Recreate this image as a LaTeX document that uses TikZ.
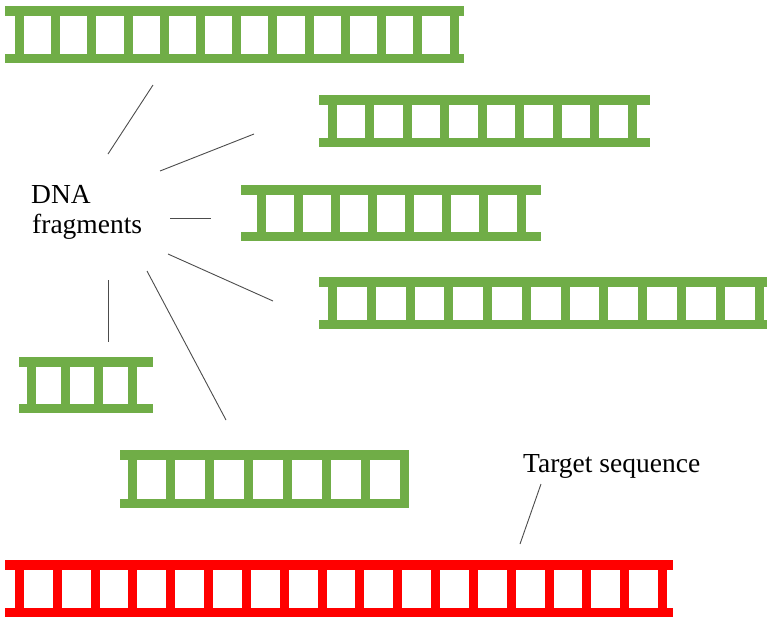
\documentclass[tikz,border=0pt]{standalone}
\usepackage{fontspec}
\setmainfont{Liberation Serif}
\usetikzlibrary{positioning}

\definecolor{dnagreen}{RGB}{112,173,71}
\definecolor{dnared}{RGB}{255,0,0}

\tikzset{
  leader/.style={draw=black!70,line width=0.9pt},
  callout/.style={inner sep=0pt,font=\fontsize{27.5}{30}\selectfont}
}

\begin{document}
\begin{tikzpicture}[x=1pt,y=-1pt]
 \useasboundingbox (0,0) rectangle (768,619);

 % ladders: rail from/to, first/last rung, cells, top/bottom, colour
 \foreach \xa/\xb/\ra/\rb/\n/\ya/\yb/\col in {
   5/464/19.5/454/12/6/63/dnagreen,
   319/650/332.5/632/8/95/147/dnagreen,
   241/541/261/521/7/185/241/dnagreen,
   319/767/332.5/759/11/277/329/dnagreen,
   19/153/31.5/132.5/3/357/413/dnagreen,
   120/409/132/404.5/7/450/508/dnagreen,
   5/673/19.5/662.5/17/560/617/dnared}
 {
   \fill[\col] (\xa,\ya) rectangle (\xb,\ya+9.5);
   \fill[\col] (\xa,\yb-9.5) rectangle (\xb,\yb);
   \foreach \i in {0,...,\n}{
     \pgfmathsetmacro\cx{\ra+\i*(\rb-\ra)/\n}
     \fill[\col] (\cx-4.5,\ya) rectangle (\cx+4.5,\yb);
   }
 }

 % labels
 \node[callout,anchor=base west] (dna) at (31,203) {DNA};
 \node[callout,anchor=base west] (frag) at (32,233) {fragments};
 \node[callout,anchor=base west] (target) at (523,472) {Target sequence};

 % leader ends
 \coordinate (f1) at (108,154); \coordinate (t1) at (153,85);
 \coordinate (f2) at (160,171); \coordinate (t2) at (254,134);
 \coordinate (f3) at (170,218); \coordinate (t3) at (211,218);
 \coordinate (f4) at (168,254); \coordinate (t4) at (273,301);
 \coordinate (f5) at (108,280); \coordinate (t5) at (108,342);
 \coordinate (f6) at (147,271); \coordinate (t6) at (226,420);
 \coordinate (g1) at (541,484); \coordinate (g2) at (520,544);

 \foreach \a/\b in {f1/t1,f2/t2,f3/t3,f4/t4,f5/t5,f6/t6,g1/g2}
   \draw[leader] (\a) -- (\b);
\end{tikzpicture}
\end{document}
